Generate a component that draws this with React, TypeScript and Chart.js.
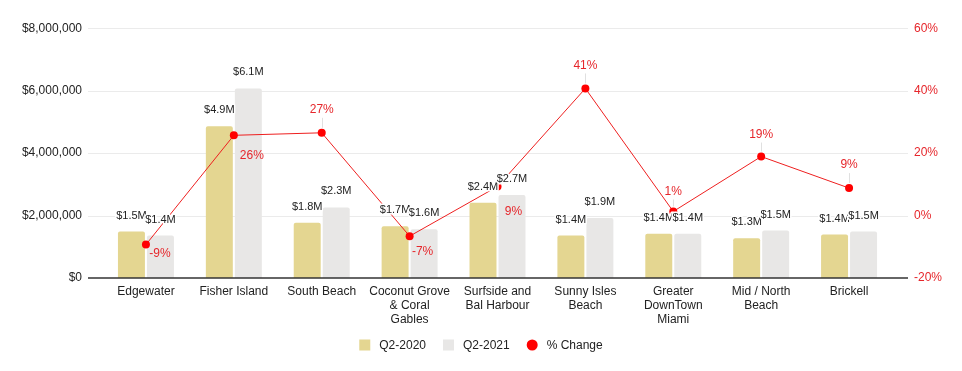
import React, { useEffect, useRef } from "react";
import { Chart, registerables } from "chart.js";

Chart.register(...registerables);

const categories: (string | string[])[] = [
  "Edgewater",
  "Fisher Island",
  "South Beach",
  ["Coconut Grove", "& Coral", "Gables"],
  ["Surfside and", "Bal Harbour"],
  ["Sunny Isles", "Beach"],
  ["Greater", "DownTown", "Miami"],
  ["Mid / North", "Beach"],
  "Brickell",
];

const q2020 = [1490000, 4860000, 1770000, 1660000, 2410000, 1360000, 1420000, 1270000, 1390000];
const q2021 = [1360000, 6070000, 2260000, 1560000, 2660000, 1920000, 1420000, 1520000, 1490000];
const pctChange = [-9.3, 25.7, 26.5, -6.6, 9.3, 40.7, 1.3, 18.9, 8.8];

const leftTicks = [0, 2000000, 4000000, 6000000, 8000000];
const rightTicks = [-20, 0, 20, 40, 60];

// label offsets (dx, dy) for the % change labels relative to their point
const pctLabelOffsets: [number, number][] = [
  [14, 9], [18, 20], [0, -23], [13, 16], [16, 25], [0, -23], [0, -20], [0, -22], [0, -23],
];

const FONT = "'Liberation Sans', Arial, sans-serif";
const RED = "#e6262b";
const GOLD = "#e4d691";
const GRAY = "#e8e7e6";
const TEXT = "#222222";

const decorPlugin = {
  id: "decor",
  beforeDatasetsDraw(chart: any) {
    const { ctx, chartArea, scales } = chart;
    const y = scales.y;
    ctx.save();
    ctx.strokeStyle = "#ebebeb";
    ctx.lineWidth = 1;
    leftTicks.forEach((t) => {
      if (t === 0) return;
      const py = Math.round(y.getPixelForValue(t)) + 0.5;
      ctx.beginPath();
      ctx.moveTo(chartArea.left - 14, py);
      ctx.lineTo(chartArea.right + 15, py);
      ctx.stroke();
    });
    ctx.restore();
  },
  afterDatasetsDraw(chart: any) {
    const { ctx, chartArea, scales } = chart;
    const y = scales.y;
    ctx.save();
    // baseline
    const by = y.getPixelForValue(0);
    ctx.strokeStyle = "#333333";
    ctx.lineWidth = 1.5;
    ctx.beginPath();
    ctx.moveTo(chartArea.left - 14, by);
    ctx.lineTo(chartArea.right + 15, by);
    ctx.stroke();

    // % change labels
    const lineMeta = chart.getDatasetMeta(0);
    ctx.font = `12px ${FONT}`;
    ctx.textAlign = "center";
    ctx.textBaseline = "middle";
    lineMeta.data.forEach((pt: any, i: number) => {
      const [dx, dy] = pctLabelOffsets[i];
      const lx = pt.x + dx;
      const ly = pt.y + dy;
      if (dy < 0) {
        ctx.strokeStyle = "#e0e0e0";
        ctx.lineWidth = 1;
        ctx.beginPath();
        ctx.moveTo(Math.round(pt.x) + 0.5, ly + 8);
        ctx.lineTo(Math.round(pt.x) + 0.5, pt.y - 5);
        ctx.stroke();
      }
      ctx.fillStyle = RED;
      ctx.fillText(`${Math.round(pctChange[i])}%`, lx, ly);
    });

    // bar value labels
    ctx.font = `11px ${FONT}`;
    [1, 2].forEach((di) => {
      const meta = chart.getDatasetMeta(di);
      const vals = di === 1 ? q2020 : q2021;
      meta.data.forEach((bar: any, i: number) => {
        const txt = `$${(vals[i] / 1e6).toFixed(1)}M`;
        const tx = bar.x;
        const ty = bar.y - 16;
        ctx.lineWidth = 3;
        ctx.strokeStyle = "#ffffff";
        ctx.lineJoin = "round";
        ctx.strokeText(txt, tx, ty);
        ctx.fillStyle = TEXT;
        ctx.fillText(txt, tx, ty);
      });
    });
    ctx.restore();
  },
  afterDraw(chart: any) {
    const { ctx, width } = chart;
    ctx.save();
    ctx.font = `12px ${FONT}`;
    ctx.textBaseline = "middle";
    ctx.textAlign = "left";
    const items = [
      { label: "Q2-2020", color: GOLD, circle: false },
      { label: "Q2-2021", color: GRAY, circle: false },
      { label: "% Change", color: "#ff0000", circle: true },
    ];
    const box = 11;
    const gapText = 9;
    const gapItem = 17;
    const widths = items.map((it) => box + gapText + ctx.measureText(it.label).width);
    const total = widths.reduce((a, b) => a + b, 0) + gapItem * (items.length - 1);
    let x = width / 2 - total / 2;
    const cy = 345;
    items.forEach((it, i) => {
      ctx.fillStyle = it.color;
      if (it.circle) {
        ctx.beginPath();
        ctx.arc(x + box / 2, cy, 5.5, 0, Math.PI * 2);
        ctx.fill();
      } else {
        ctx.fillRect(x, cy - box / 2, box, box);
      }
      ctx.fillStyle = TEXT;
      ctx.fillText(it.label, x + box + gapText, cy + 0.5);
      x += widths[i] + gapItem;
    });
    ctx.restore();
  },
};

export default function App() {
  const ref = useRef<HTMLCanvasElement | null>(null);
  useEffect(() => {
    if (!ref.current) return;
    const chart = new Chart(ref.current, {
      type: "bar",
      data: {
        labels: categories as any,
        datasets: [
          {
            type: "line",
            label: "% Change",
            data: pctChange,
            yAxisID: "y1",
            borderColor: "#ee1f1f",
            borderWidth: 1,
            pointRadius: 4,
            pointBackgroundColor: "#ff0000",
            pointBorderColor: "#ff0000",
            pointBorderWidth: 0,
            order: 0,
          } as any,
          {
            label: "Q2-2020",
            data: q2020,
            backgroundColor: GOLD,
            yAxisID: "y",
            categoryPercentage: 0.66,
            barPercentage: 0.93,
            borderRadius: 2,
            borderSkipped: "bottom",
            order: 1,
          },
          {
            label: "Q2-2021",
            data: q2021,
            backgroundColor: GRAY,
            yAxisID: "y",
            categoryPercentage: 0.66,
            barPercentage: 0.93,
            borderRadius: 2,
            borderSkipped: "bottom",
            order: 2,
          },
        ],
      },
      options: {
        responsive: false,
        animation: false,
        layout: { padding: { top: 25, left: 0, right: 0, bottom: 0 } },
        plugins: { legend: { display: false }, tooltip: { enabled: false } },
        scales: {
          x: {
            grid: { display: false, drawTicks: false },
            border: { display: false },
            ticks: {
              autoSkip: false,
              maxRotation: 0,
              padding: 7,
              color: TEXT,
              font: { family: FONT, size: 12, lineHeight: 14 / 12 },
            },
            afterFit: (s: any) => {
              s.height = 93;
            },
          },
          y: {
            position: "left",
            min: 0,
            max: 8000000,
            grid: { display: false, drawTicks: false },
            border: { display: false },
            ticks: {
              stepSize: 2000000,
              padding: 20,
              color: TEXT,
              font: { family: FONT, size: 12 },
              callback: (v: any) => "$" + Number(v).toLocaleString("en-US"),
            },
            afterFit: (s: any) => {
              s.width = 102;
            },
          },
          y1: {
            position: "right",
            min: -20,
            max: 60,
            grid: { display: false, drawTicks: false },
            border: { display: false },
            ticks: {
              stepSize: 20,
              padding: 21,
              color: RED,
              font: { family: FONT, size: 12 },
              callback: (v: any) => `${v}%`,
            },
            afterFit: (s: any) => {
              s.width = 69;
            },
          },
        },
      },
      plugins: [decorPlugin],
    });
    return () => chart.destroy();
  }, []);
  return (
    <div style={{ position: "absolute", left: 0, top: 0, width: 962, height: 371, background: "#fff" }}>
      <canvas ref={ref} width={962} height={371} style={{ display: "block" }} />
    </div>
  );
}
